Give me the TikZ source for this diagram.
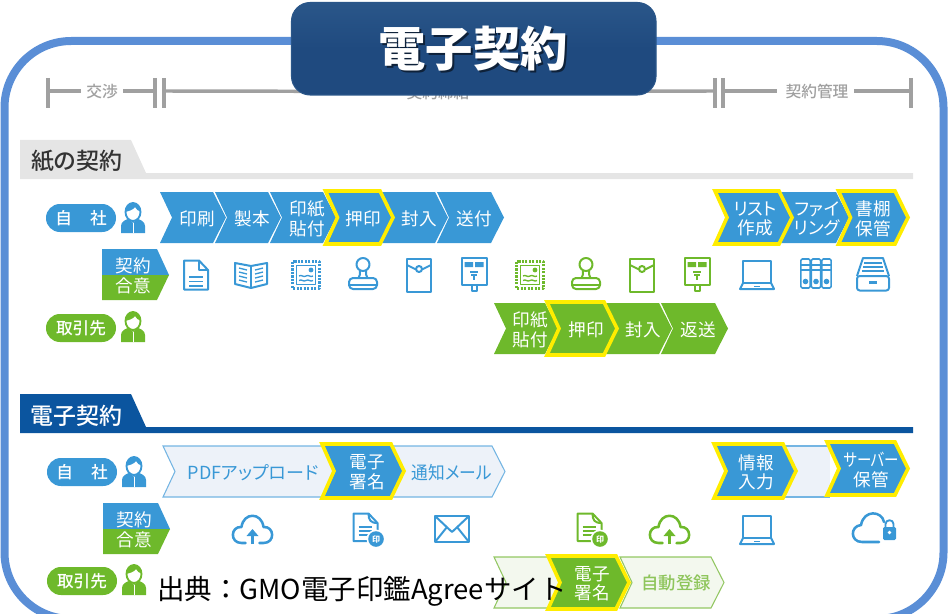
\documentclass[tikz,border=0pt]{standalone}
\usepackage{graphicx}
\usepackage{fontspec}
\newfontfamily\jp{Noto Sans CJK JP}
\newfontfamily\jpk[RawFeature=+palt]{Noto Sans CJK JP}
\newfontfamily\jpm[RawFeature=+palt]{Noto Sans CJK JP Medium}
\setmainfont{Noto Sans CJK JP}
\definecolor{ib}{HTML}{3998D6}
\definecolor{ig}{HTML}{6EB92B}
\definecolor{lb}{HTML}{EDF2F9}
\definecolor{lbb}{HTML}{74B5E3}
\definecolor{lg}{HTML}{F3F8EE}
\definecolor{lgb}{HTML}{93C763}
\definecolor{yel}{HTML}{FFED00}
\definecolor{framec}{HTML}{5A8ED6}
\definecolor{titletop}{HTML}{2A5689}
\definecolor{titlec}{HTML}{1F4A7F}
\definecolor{tl}{HTML}{A0A0A0}
\definecolor{secg}{HTML}{E5E5E5}
\definecolor{secb}{HTML}{0B559F}
\newcommand\jpf[1]{\fontsize{#1}{#1}\selectfont}
% name, x0, x1, ytop, ybot, style, text style, label
\newcommand\chevp[6]{%
 \path[#6] (#2,#4) -- (#3,#4) -- ({#3+13},{(#4+#5)/2}) -- (#3,#5) -- (#2,#5) -- ({#2+12},{(#4+#5)/2}) -- cycle;}
\newcommand\chev[8]{%
 \chevp{#1}{#2}{#3}{#4}{#5}{#6}
 \node[#7] (#1) at ({(#2+#3)/2+10.5},{(#4+#5)/2}) {#8};}
\tikzset{
 x=0.75pt,y=-0.75pt,
 cb/.style={fill=ib},
 cg/.style={fill=ig},
 cy/.style={line width=2.7pt,draw=yel,miter limit=10},
 cyb/.style={cy,fill=ib},
 cyg/.style={cy,fill=ig},
 cl/.style={fill=lb,draw=lbb,line width=0.8pt},
 clg/.style={fill=lg,draw=lgb,line width=0.8pt},
 wt/.style={text=white,align=center,inner sep=0pt,yshift=-1pt,font=\jpk\fontsize{13.2}{14.6}\selectfont},
 bt/.style={text=ib,inner sep=0pt,yshift=-0.7pt,font=\jpk\fontsize{13.5}{14.6}\selectfont},
 gt/.style={text=lgb!85!ig,inner sep=0pt,yshift=-0.7pt,font=\jpm\fontsize{13}{14.6}\selectfont},
 pill/.style={rounded corners=10.4pt,inner sep=0pt,text=white,minimum width=52.5pt,minimum height=21pt,font=\jpm\jpf{12.5}},
 tag/.style={text=white,inner sep=0pt,yshift=-0.7pt,font=\jp\jpf{13.2}},
 tll/.style={draw=tl,line width=2.6pt},
 tlt/.style={text=tl,inner sep=0pt,yshift=-0.7pt,font=\jpm\jpf{11.8}},
 ic/.style={color=#1,line width=1.5pt,line join=round},
 pics/docicon/.style={code={
  \draw (-12,-14.5) -- (3,-14.5) -- (12,-5) -- (12,14.5) -- (-12,14.5) -- cycle;
  \draw (3,-14.5) -- (3,-5) -- (12,-5);
  \draw[line width=1pt] (-7,2) -- (7,2) (-7,6.5) -- (7,6.5) (-7,11) -- (7,11);}},
 pics/bookicon/.style={code={
  \draw (-16,-11) -- (0,-8) -- (16,-11) -- (16,10) -- (0,14) -- (-16,10) -- cycle;
  \draw (0,-8) -- (0,14);
  \draw[line width=1pt] (-12,-6) -- (-4,-4) (-12,-2) -- (-4,0) (-12,2) -- (-4,4) (-12,6) -- (-4,8)
   (12,-6) -- (4,-4) (12,-2) -- (4,0) (12,2) -- (4,4) (12,6) -- (4,8);}},
 pics/stampicon/.style={code={
  \draw[line width=2pt,dash pattern=on 1.6pt off 1pt] (-13.5,-13.5) rectangle (13.5,13.5);
  \draw[line width=1.1pt] (-9.5,-9.5) rectangle (9.5,9.5);
  \fill (5,-5) circle[radius=2.4];
  \draw[line width=1pt] (-7,1) .. controls (-4,-1) and (-3,3) .. (0,1) .. controls (3,-1) and (4,3) .. (7,1)
   (-7,5.5) .. controls (-4,3.5) and (-3,7.5) .. (0,5.5) .. controls (3,3.5) and (4,7.5) .. (7,5.5);}},
 pics/sealicon/.style={code={
  \draw (0,-10.5) circle[radius=6.5];
  \draw (-3,-4.5) .. controls (-3,-1) and (-3,1) .. (-4.5,3) (3,-4.5) .. controls (3,-1) and (3,1) .. (4.5,3);
  \draw[rounded corners=3pt] (-14,3) rectangle (14,14);
  \draw (-13,9.5) -- (13,9.5);}},
 pics/envicon/.style={code={
  \draw (-12,-16.5) rectangle (12,16.5);
  \draw (-12,-10) -- (-3,-5.5) (3,-5.5) -- (12,-10);
  \draw (0,-6) circle[radius=3];}},
 pics/posticon/.style={code={
  \draw (-12.5,-16) rectangle (12.5,11);
  \fill (-9.5,-12) rectangle (-1,-7) (1,-12) rectangle (9.5,-7);
  \draw[line width=1pt] (-4,-2) -- (4,-2) (-3,1) -- (3,1) (0,1) -- (0,6);
  \draw (-2.5,11) rectangle (2.5,17);}},
 pics/laptopicon/.style={code={
  \draw (-14,-14) rectangle (14,8);
  \draw (-14,8) -- (-17,14) -- (17,14) -- (14,8);
  \draw[line width=1pt] (-3,11.5) -- (3,11.5);}},
 pics/bindericon/.style={code={
  \foreach \bx in {-10.5,0,10.5}{
   \draw[line width=1.2pt,rounded corners=1pt] ({\bx-4.6},-15) rectangle ({\bx+4.6},14);
   \draw[line width=1pt] ({\bx-4.6},-9) -- ({\bx+4.6},-9) ({\bx-4.6},-4) -- ({\bx+4.6},-4);
   \fill (\bx,7.5) circle[radius=2.8];}}},
 pics/drawericon/.style={code={
  \draw (-16,2) -- (-10,-16) -- (10,-16) -- (16,2);
  \draw[rounded corners=2pt] (-16,2) rectangle (16,16.5);
  \draw[line width=1pt] (-9,-11) -- (9,-11) (-10,-7) -- (10,-7) (-11,-3) -- (11,-3);
  \fill (-4,6.5) rectangle (4,9.5);}},
 pics/cloudicon/.style={code={
  \draw[line width=1.9pt,line cap=round] (-7,13) -- (-11,13) .. controls (-23,13) and (-22,-4) .. (-11,-3) .. controls (-9,-18) and (9,-18) .. (11,-3) .. controls (22,-4) and (23,13) .. (11,13) -- (7,13);
  \draw[line width=2pt] (0,14) -- (0,4);
  \fill (-6,6) -- (0,-1) -- (6,6) -- cycle;}},
 pics/esealicon/.style={code={
  \draw (-12,-14.5) -- (3,-14.5) -- (12,-5) -- (12,13) -- (-12,13) -- cycle;
  \draw (3,-14.5) .. controls (3,-8) and (5,-5) .. (12,-5);
  \draw[line width=1.1pt] (-7,-1) -- (6,-1) (-7,3) -- (6,3) (-7,7) -- (2,7);
  \fill[white] (10.5,11) circle[radius=9.5];
  \fill (10.5,11) circle[radius=7.8];
  \node[text=white,inner sep=0pt,font=\jp\bfseries\jpf{6}] at (10.5,11) {印};}},
 pics/mailicon/.style={code={
  \draw[line width=1.9pt] (-17,-13) rectangle (17,13);
  \draw (-17,-13) -- (0,3) -- (17,-13);
  \draw (-17,13) -- (-5,-2) (17,13) -- (5,-2);}},
 pics/lockcloudicon/.style={code={
  \draw[line width=1.9pt,line cap=round] (9,14) -- (-8,14) .. controls (-20,14) and (-20,-2) .. (-9,-3) .. controls (-6,-19) and (12,-17) .. (14,-6);
  \fill[rounded corners=1pt] (13,-1) rectangle (26,12);
  \draw[line width=1.4pt] (15.5,-1) -- (15.5,-4) .. controls (15.5,-9) and (23.5,-9) .. (23.5,-4) -- (23.5,-1);
  \fill[white] (19.5,4.5) circle[radius=1.8];}},
 pics/personicon/.style={code={
  \fill (-12,15) -- (-12,8) .. controls (-12,3) and (-7,2) .. (-4,0.5) -- (0,5) -- (4,0.5) .. controls (7,2) and (12,3) .. (12,8) -- (12,15) -- cycle;
  \draw[white,line width=0.7pt] (0,5) -- (0,15);
  \draw[line width=1.4pt] (0,-6) ellipse[x radius=7.5,y radius=9];
  \fill (-8,-6) .. controls (-8,-18) and (8,-18) .. (8,-6) .. controls (5,-7) and (3,-9) .. (2,-11) .. controls (0,-8) and (-4,-7) .. (-8,-6) -- cycle;}},
}
\begin{document}
\begin{tikzpicture}
\useasboundingbox (0,0) rectangle (948,613);
\begin{scope}
\clip (0,0) rectangle (948,613);
% frame
\draw[framec,line width=6pt,rounded corners=50pt] (4.5,41) rectangle (943.5,619);

% timeline
\node[tlt] (tlA) at (102,91) {交渉};
\node[tlt] (tlB) at (438,91.5) {契約締結};
\node[tlt] (tlC) at (817,91) {契約管理};
\coordinate (a0) at (48,91); \coordinate (a1) at (155,91);
\coordinate (b0) at (164,91); \coordinate (b1) at (715,91);
\coordinate (c0) at (723,91); \coordinate (c1) at (911,91);
\draw[tll] (a0) -- ([xshift=-4pt,yshift=0.7pt]tlA.west) ([xshift=4pt,yshift=0.7pt]tlA.east) -- (a1);
\draw[tll] (b0) -- ([yshift=0.7pt]tlB.west) ([yshift=0.7pt]tlB.east) -- (b1);
\draw[tll] (c0) -- ([xshift=-6pt,yshift=0.7pt]tlC.west) ([xshift=4pt,yshift=0.7pt]tlC.east) -- (c1);
\foreach \tk in {a0,a1,b0,b1,c0,c1}{\draw[tll] ([yshift=9.75pt]\tk) -- ([yshift=-12.75pt]\tk);}

% paper section
\fill[secg] (20,140) -- (131,140) -- (146,173) -- (913,173) -- (913,179) -- (20,179) -- cycle;
\node[inner sep=0pt,text=black!80,font=\jpm\jpf{17.2}] (secA) at (76.5,161) {紙の契約};

\node[pill,fill=ib] (selfA) at (81,218) {自\hspace{13.5pt}社};
\pic[ic=ib] at (133,218) {personicon};
\node[pill,fill=ig] (otherA) at (81,328) {取引先};
\pic[ic=ig] at (133,327) {personicon};

\chev{a1}{160}{213}{192}{243}{cb}{wt}{印刷}
\chev{a2}{215}{268}{192}{243}{cb}{wt}{製本}
\chev{a3}{270}{323}{192}{243}{cb}{wt}{印紙\\貼付}
\chev{a5}{382}{435}{192}{243}{cb}{wt}{封入}
\chev{a6}{437}{491}{192}{243}{cb}{wt}{送付}
\chev{a4}{325.5}{380}{191}{244}{cyb}{wt}{押印}
\chev{a8}{781}{836}{192}{243}{cb}{wt,xshift=-1.5pt}{ファイ\\リング}
\chev{a7}{715}{779}{191}{244}{cyb}{wt,xshift=-1.7pt}{リスト\\作成}
\chev{a9}{838.5}{895}{191}{244}{cyb}{wt,xshift=-3pt}{書棚\\保管}

\chev{g1}{494}{545}{303}{354}{cg}{wt}{印紙\\貼付}
\chev{g3}{606}{659}{303}{354}{cg}{wt}{封入}
\chev{g4}{661}{715}{303}{354}{cg}{wt}{返送}
\chev{g2}{547}{604}{302}{355}{cyg}{wt}{押印}

% tag 1
\fill[ib] (102,249) -- (157,249) -- (169,275) -- (102,275) -- cycle;
\fill[ig] (102,275) -- (169,275) -- (157,300) -- (102,300) -- cycle;
\node[tag] (tagA1) at (133,265) {契約};
\node[tag] (tagA2) at (133,285) {合意};

\pic[ic=ib] at (196,275) {docicon};
\pic[ic=ib] at (251,274) {bookicon};
\pic[ic=ib] at (306,275) {stampicon};
\pic[ic=ib] at (363,275) {sealicon};
\pic[ic=ib] at (419,275) {envicon};
\pic[ic=ib] at (474,274) {posticon};
\pic[ic=ig] at (530,275) {stampicon};
\pic[ic=ig] at (586,275) {sealicon};
\pic[ic=ig] at (642,275) {envicon};
\pic[ic=ig] at (697,274) {posticon};
\pic[ic=ib] at (757,275) {laptopicon};
\pic[ic=ib] at (816,274) {bindericon};
\pic[ic=ib] at (873,274) {drawericon};

% electronic section
\fill[secb] (20,394) -- (131,394) -- (146,427) -- (913,427) -- (913,433) -- (20,433) -- cycle;
\node[inner sep=0pt,text=white,font=\jpm\jpf{17.2}] (secB) at (76.5,415.5) {電子契約};

\node[pill,fill=ib] (selfB) at (82,472) {自\hspace{13.5pt}社};
\pic[ic=ib] at (134,472) {personicon};
\node[pill,fill=ig] (otherB) at (82,581) {取引先};
\pic[ic=ig] at (134,580) {personicon};

\chev{e1}{163}{322}{446}{497}{cl}{bt}{PDFアップロード}
\chev{e3}{391}{492}{446}{497}{cl}{bt}{\scalebox{.93}[1]{通知メール}}
\fill[lb] (785,446) rectangle (830,497);
\draw[lbb,line width=0.8pt] (785,446) -- (830,446) (785,497) -- (830,497);
\chev{e2}{322}{391}{444}{498}{cyb}{wt}{電子\\署名}
\chev{e4}{714}{783}{444}{498}{cyb}{wt,xshift=-2pt}{情報\\入力}
\chev{e5}{827}{895}{442}{495}{cyb}{wt}{\scalebox{.82}[1]{サーバー}\\保管}

\chevp{f1}{494}{560}{557}{608}{clg}
\chev{f3}{620}{711}{557}{608}{clg}{gt}{自動登録}
\chev{f2}{548}{616}{556}{609}{cyg}{wt}{電子\\署名}

% tag 2
\fill[ib] (103,503) -- (158,503) -- (170,529) -- (103,529) -- cycle;
\fill[ig] (103,529) -- (170,529) -- (158,554) -- (103,554) -- cycle;
\node[tag] (tagB1) at (134,519) {契約};
\node[tag] (tagB2) at (134,538.5) {合意};

\pic[ic=ib] at (252.5,530) {cloudicon};
\pic[ic=ib] at (365.5,528) {esealicon};
\pic[ic=ib] at (452,529) {mailicon};
\pic[ic=ig] at (589.5,528) {esealicon};
\pic[ic=ig] at (669.5,530) {cloudicon};
\pic[ic=ib] at (757,530) {laptopicon};
\pic[ic=ib] at (870,528) {lockcloudicon};

% title
\draw[draw=titletop,top color=titletop,bottom color=titlec,middle color=titlec,rounded corners=14pt,line width=0.8pt] (291.5,2.5) rectangle (656,95);
\node[inner sep=0pt,text=black!55!titlec,font=\jp\bfseries\jpf{35.5}] (titleS) at (475,50.5) {電子契約};
\node[inner sep=0pt,text=white,font=\jp\bfseries\jpf{35.5}] (title) at (473,48.5) {電子契約};

% source
\node[anchor=west,inner sep=0pt,text=black,font=\jp\jpf{20.6}] (src) at (157,591.5) {出典：GMO電子印鑑Agreeサイト};
\end{scope}
\end{tikzpicture}
\end{document}
